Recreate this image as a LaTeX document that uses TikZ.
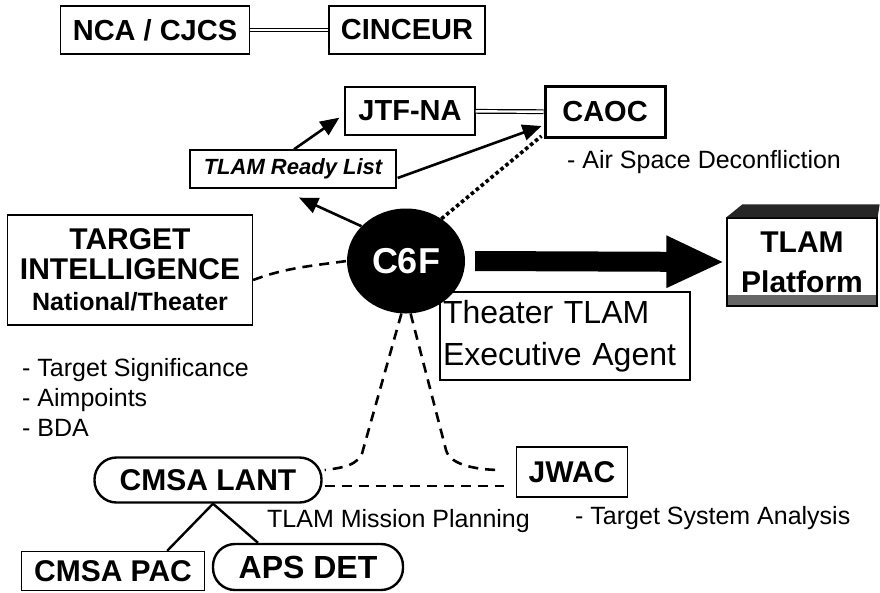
\documentclass[tikz,border=0pt]{standalone}
\usepackage{fontspec}
\setmainfont{Liberation Sans}
\usetikzlibrary{arrows.meta,shapes.geometric}

\begin{document}
\begin{tikzpicture}[x=1pt,y=-1pt,
  unit/.style={draw, line width=1.3pt, inner sep=0pt, font=\bfseries\fontsize{29}{32}\selectfont},
  oval/.style={draw, rounded corners=22pt, line width=2.4pt, inner sep=0pt, font=\bfseries\fontsize{30}{32}\selectfont},
  note/.style={anchor=base west, inner sep=0pt, font=\fontsize{25}{30}\selectfont},
  order/.style={line width=2.6pt, -{Triangle[length=19pt,width=16pt]}},
  liaison/.style={line width=1.2pt, double, double distance=2.4pt},
  support/.style={line width=2.6pt, dash pattern=on 10pt off 7pt},
  coordline/.style={line width=3.6pt, dash pattern=on 3.6pt off 2.8pt}]
\useasboundingbox (0,0) rectangle (880,592);

%Command boxes
\node[unit, minimum width=189pt, minimum height=48pt] (nca) at (155,30) {NCA / CJCS};
\node[unit, minimum width=156pt, minimum height=48pt] (cinceur) at (407,30) {CINCEUR};
\node[unit, minimum width=130pt, minimum height=48pt] (jtf) at (410,111) {JTF-NA};
\node[unit, line width=3pt, minimum width=120pt, minimum height=51pt] (caoc) at (605,112) {CAOC};
\node[note] (airspace) at (567,168) {- Air Space Deconfliction};
\node[unit, minimum width=206pt, minimum height=38pt, font=\bfseries\itshape\fontsize{22}{24}\selectfont] (ready) at (293,169) {TLAM Ready List};

%C6F
\node[ellipse, fill=black, text=white, minimum width=118pt, minimum height=105pt, inner sep=0pt, font=\bfseries\fontsize{36}{40}\selectfont] (c6f) at (406,261) {C6F};

%Target intelligence
\node[unit, minimum width=245pt, minimum height=110pt, align=center, font=\bfseries\fontsize{30}{30}\selectfont] (target) at (130,270)
  {TARGET\\INTELLIGENCE\\[1pt]{\fontsize{25}{30}\selectfont National/Theater}};
\node[note, align=left, anchor=west] (tgtnotes) at (22,397) {- Target Significance\\- Aimpoints\\- BDA};

%Executive agent
\node[draw, line width=1.3pt, minimum height=88pt, text width=244pt, inner xsep=3pt, inner ysep=0pt, align=left, font=\fontsize{32}{42}\selectfont] (exec) at (565,336) {Theater TLAM\\Executive Agent};

%TLAM platform
\node[draw, line width=1.3pt, minimum width=150pt, minimum height=88pt, align=center, inner sep=0pt,
  font=\bfseries\fontsize{30}{40}\selectfont,
  path picture={\fill[black!60] ([yshift=11pt]path picture bounding box.south west) rectangle (path picture bounding box.south east);}]
  (platform) at (802,262) {TLAM\\Platform};
\fill[black!85] (platform.north west) -- ++(16,-13) -- ([shift={(2,-13)}]platform.north east) -- (platform.north east) -- cycle;

%Mission planning
\node[oval, minimum width=227pt, minimum height=45pt] (lant) at (208,480) {CMSA LANT};
\node[unit, minimum width=111pt, minimum height=50pt, font=\bfseries\fontsize{30}{32}\selectfont] (jwac) at (572,472) {JWAC};
\node[note] (mission) at (267,527) {TLAM Mission Planning};
\node[note] (tsa) at (575,524) {- Target System Analysis};
\node[unit, minimum width=183pt, minimum height=39pt, font=\bfseries\fontsize{30}{32}\selectfont] (pac) at (113,571) {CMSA PAC};
\node[oval, minimum width=190pt, minimum height=46pt, font=\bfseries\fontsize{32}{34}\selectfont] (aps) at (308,567) {APS DET};

%Connectors
\draw[liaison] (nca) -- (cinceur);
\draw[liaison] (jtf) -- (caoc);
\draw[order] ([xshift=1pt]ready.north) -- ([shift={(-5,-18)}]jtf.south west);
\draw[order] ([shift={(1,9)}]ready.east) -- ([shift={(-2,-13)}]caoc.south west);
\draw[order] (c6f.142) -- ([shift={(6,9)}]ready.south);
\draw[coordline] (c6f.50) -- ([shift={(-2,-3)}]caoc.south west);
\draw[line width=20pt, -{Triangle[length=58pt,width=48pt]}] ([xshift=10pt]c6f.east) -- ([xshift=-2pt]platform.west);
\draw[support] ([shift={(0,10)}]target.east) .. controls (285,268) and (310,266) .. (c6f.west);
\draw[support] (c6f.265) -- (363,450) .. controls (360,466) and (340,468) .. ([shift={(2,-10)}]lant.east);
\draw[support] (c6f.275) -- (446,450) .. controls (450,466) and (480,470) .. ([shift={(-14,-2)}]jwac.west);
\draw[support] ([shift={(2,6)}]lant.east) -- ([shift={(-12,14)}]jwac.west);
\draw[line width=2.4pt] ([xshift=5pt]lant.south) -- ([xshift=-38pt]pac.north east);
\draw[line width=2.4pt] ([xshift=5pt]lant.south) -- ([xshift=-50pt]aps.north);

\end{tikzpicture}
\end{document}
